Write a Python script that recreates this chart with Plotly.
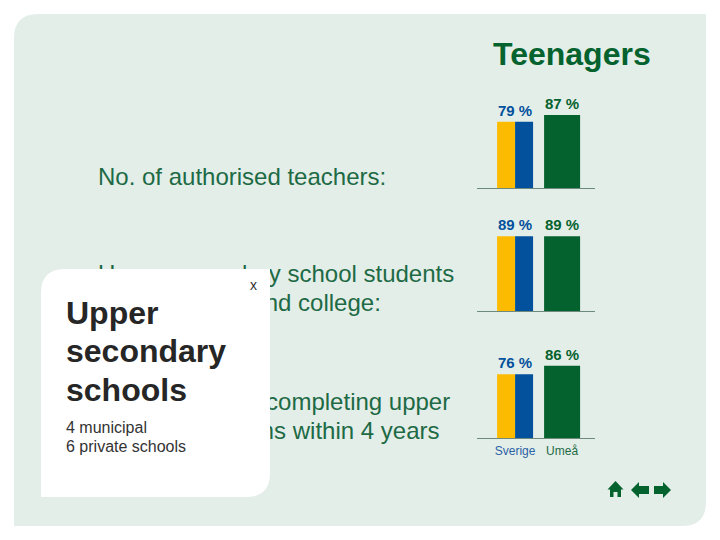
import plotly.graph_objects as go

# values
categories = ['Sverige', 'Umeå']
sverige = [79, 89, 76]
umea = [87, 89, 86]
measure_lines = ['No. of authorised teachers:',
                 'Upper secondary school students',
                 'into university and college:',
                 'No. of students completing upper',
                 'secondary exams within 4 years']
measure_y = [178.5, 276, 305, 404, 433]
card_title = ['Upper', 'secondary', 'schools']
card_title_y = [313, 351, 390]
card_text = ['4 municipal', '6 private schools']
card_text_y = [427, 446]

YELLOW = '#fdbb00'
BLUE = '#03519c'
GREEN = '#04622e'
TEXT_GREEN = '#1d6a45'
PANEL = '#e4eee9'
FONT = 'Liberation Sans'

# pixel position of each small chart: top and bottom of the 0-100 axis
panels = [(104, 188), (227, 311), (354, 438)]
W, H = 720, 540

fig = go.Figure()

# full-page axis in pixels, used for the text and the shapes
fig.update_layout(xaxis=dict(domain=[0, 1], range=[0, W], visible=False, fixedrange=True),
                  yaxis=dict(domain=[0, 1], range=[H, 0], visible=False, fixedrange=True))
fig.add_trace(go.Scatter(x=[98] * len(measure_lines), y=measure_y, text=measure_lines, mode='text',
                         textposition='middle right', hoverinfo='skip', showlegend=False,
                         textfont=dict(family=FONT, size=24, color=TEXT_GREEN),
                         xaxis='x', yaxis='y'))

for i, (top, bottom) in enumerate(panels):
    n = str(i + 2)
    fig.update_layout({
        'xaxis' + n: dict(domain=[477 / W, 595 / W], range=[-0.81, 1.70], type='linear',
                          tickmode='array', tickvals=[0, 1],
                          ticktext=['<span style="color:%s">%s</span>' % ('#2a62a4', categories[0]),
                                    '<span style="color:%s">%s</span>' % ('#1d6a45', categories[1])] if i == 2 else ['', ''],
                          ticks='', showgrid=False, zeroline=False, showline=True, ticklabelstandoff=2,
                          linecolor='#6d8a7c', linewidth=1, anchor='y' + n, fixedrange=True,
                          tickfont=dict(family=FONT, size=12)),
        'yaxis' + n: dict(domain=[1 - bottom / H, 1 - top / H], range=[0, 100], visible=False,
                          anchor='x' + n, fixedrange=True),
    })
    xa, ya = 'x' + n, 'y' + n
    fig.add_trace(go.Bar(x=[0], y=[sverige[i]], width=[18 / 47], offset=[-18 / 47],
                         marker=dict(color=YELLOW, line_width=0), xaxis=xa, yaxis=ya, showlegend=False))
    fig.add_trace(go.Bar(x=[0], y=[sverige[i]], width=[18 / 47], offset=[0],
                         marker=dict(color=BLUE, line_width=0), xaxis=xa, yaxis=ya, showlegend=False))
    fig.add_trace(go.Bar(x=[1], y=[umea[i]], width=[36 / 47], offset=[-18 / 47],
                         marker=dict(color=GREEN, line_width=0), xaxis=xa, yaxis=ya, showlegend=False))
    for x, val, col in [(0, sverige[i], BLUE), (1, umea[i], GREEN)]:
        fig.add_annotation(x=x, y=val, xref=xa, yref=ya, text='%d %%' % val, showarrow=False,
                           yanchor='bottom', yshift=1,
                           font=dict(family=FONT, size=15, color=col, weight='bold'))

# green page with two rounded corners, white card on top of the text
fig.add_shape(type='path', xref='x', yref='y', layer='below', fillcolor=PANEL, line_width=0,
              path='M 38 14 L 706 14 L 706 502 Q 706 526 682 526 L 14 526 L 14 38 Q 14 14 38 14 Z')
fig.add_shape(type='path', xref='x', yref='y', layer='above', fillcolor='white', line_width=0,
              path='M 65 269 L 270 269 L 270 473 Q 270 497 246 497 L 41 497 L 41 293 Q 41 269 65 269 Z')

# navigation icons
icons = ['M 607.5 489.5 L 615.5 481 L 623.5 489.5 L 621 489.5 L 621 497 L 617.5 497 L 617.5 492 L 613.5 492 L 613.5 497 L 610 497 L 610 489.5 Z',
         'M 631 490 L 639 482 L 639 486 L 649 486 L 649 494 L 639 494 L 639 498 Z',
         'M 671 490 L 663 482 L 663 486 L 654 486 L 654 494 L 663 494 L 663 498 Z']
for p in icons:
    fig.add_shape(type='path', xref='x', yref='y', layer='above', fillcolor=GREEN, line_width=0, path=p)

fig.add_annotation(x=572, y=54, xref='x', yref='y', text='Teenagers', showarrow=False,
                   font=dict(family=FONT, size=32, color=GREEN, weight='bold'))
for txt, y in zip(card_title, card_title_y):
    fig.add_annotation(x=64, y=y, xref='x', yref='y', text=txt, showarrow=False, xanchor='left',
                       font=dict(family=FONT, size=32, color='#262626', weight='bold'))
for txt, y in zip(card_text, card_text_y):
    fig.add_annotation(x=64, y=y, xref='x', yref='y', text=txt, showarrow=False, xanchor='left',
                       font=dict(family=FONT, size=16, color='#333333'))
fig.add_annotation(x=253, y=285, xref='x', yref='y', text='x', showarrow=False,
                   font=dict(family=FONT, size=14, color='#333333'))

fig.update_layout(width=W, height=H, margin=dict(l=0, r=0, t=0, b=0), paper_bgcolor='white',
                  plot_bgcolor='rgba(0,0,0,0)', barmode='overlay', showlegend=False)

fig.write_html('out.html', config=dict(displayModeBar=False),
               post_script="document.body.style.margin='0';")
